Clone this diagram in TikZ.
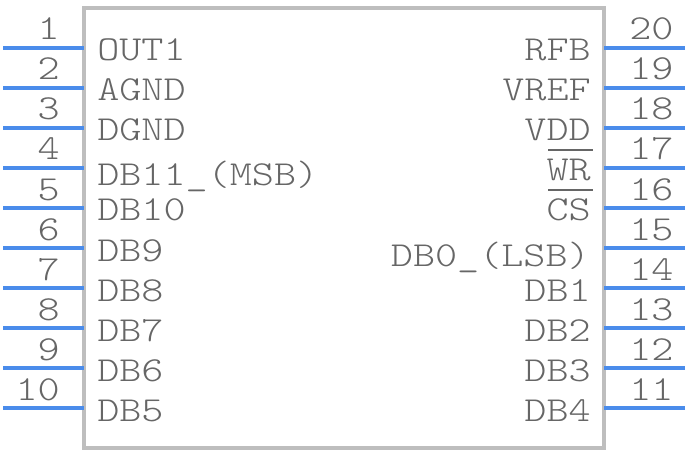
\documentclass[tikz,border=0pt]{standalone}
\usepackage{fontspec}
\newfontfamily\pinfont{Latin Modern Mono Light}[FakeStretch=1.2]
\definecolor{pinblue}{HTML}{4A8CEB}
\definecolor{bodygray}{HTML}{BEBEBE}
\definecolor{textgray}{HTML}{666666}
\tikzset{
  pinline/.style={draw=pinblue, line width=3pt},
  pinleft/.style={anchor=base east, inner sep=0pt, text=textgray, font=\pinfont\fontsize{26.3}{28}\selectfont},
  pinright/.style={anchor=base west, inner sep=0pt, text=textgray, font=\pinfont\fontsize{26.3}{28}\selectfont},
  sigleft/.style={anchor=base west, inner sep=0pt, text=textgray, font=\pinfont\fontsize{26.3}{28}\selectfont},
  sigright/.style={anchor=base east, inner sep=0pt, text=textgray, font=\pinfont\fontsize{26.3}{28}\selectfont},
  overbar/.style={draw=textgray, line width=1.5pt}
}
\begin{document}
\begin{tikzpicture}[x=0.75pt, y=-0.75pt]
        \useasboundingbox (0,0) rectangle (688,452);
        % Body
        \node (body) [draw=bodygray, line width=3pt, minimum width=390pt, minimum height=330pt, inner sep=0pt, outer sep=0pt] at (344,228) {};

        % Pin ends
        \coordinate (p1) at (3,48);
        \coordinate (p2) at (3,88);
        \coordinate (p3) at (3,128);
        \coordinate (p4) at (3,168);
        \coordinate (p5) at (3,208);
        \coordinate (p6) at (3,248);
        \coordinate (p7) at (3,288);
        \coordinate (p8) at (3,328);
        \coordinate (p9) at (3,368);
        \coordinate (p10) at (3,408);
        \coordinate (p11) at (685,408);
        \coordinate (p12) at (685,368);
        \coordinate (p13) at (685,328);
        \coordinate (p14) at (685,288);
        \coordinate (p15) at (685,248);
        \coordinate (p16) at (685,208);
        \coordinate (p17) at (685,168);
        \coordinate (p18) at (685,128);
        \coordinate (p19) at (685,88);
        \coordinate (p20) at (685,48);

        % Pin numbers
        \node (n1) [pinleft] at (60,40) {1};
        \node (n2) [pinleft] at (60,80) {2};
        \node (n3) [pinleft] at (60,120) {3};
        \node (n4) [pinleft] at (60,160) {4};
        \node (n5) [pinleft] at (60,200) {5};
        \node (n6) [pinleft] at (60,240) {6};
        \node (n7) [pinleft] at (60,280) {7};
        \node (n8) [pinleft] at (60,320) {8};
        \node (n9) [pinleft] at (60,360) {9};
        \node (n10) [pinleft] at (60,400) {10};
        \node (n20) [pinright] at (629,40) {20};
        \node (n19) [pinright] at (629,80) {19};
        \node (n18) [pinright] at (629,120) {18};
        \node (n17) [pinright] at (629,160) {17};
        \node (n16) [pinright] at (629,200) {16};
        \node (n15) [pinright] at (629,240) {15};
        \node (n14) [pinright] at (629,280) {14};
        \node (n13) [pinright] at (629,320) {13};
        \node (n12) [pinright] at (629,360) {12};
        \node (n11) [pinright] at (629,400) {11};

        % Signal names
        \node (out1) [sigleft] at (97,61) {OUT1};
        \node (agnd) [sigleft] at (97,101) {AGND};
        \node (dgnd) [sigleft] at (97,141) {DGND};
        \node (db11) [sigleft] at (97,186) {DB11\_(MSB)};
        \node (db10) [sigleft] at (97,221) {DB10};
        \node (db9) [sigleft] at (97,261) {DB9};
        \node (db8) [sigleft] at (97,301) {DB8};
        \node (db7) [sigleft] at (97,341) {DB7};
        \node (db6) [sigleft] at (97,381) {DB6};
        \node (db5) [sigleft] at (97,421) {DB5};
        \node (rfb) [sigright] at (591,61) {RFB};
        \node (vref) [sigright] at (591,101) {VREF};
        \node (vdd) [sigright] at (591,141) {VDD};
        \node (wr) [sigright] at (591,181) {WR};
        \node (cs) [sigright] at (591,221) {CS};
        \node (db0) [sigright] at (590,266) {DB0\_(LSB)};
        \node (db1) [sigright] at (591,301) {DB1};
        \node (db2) [sigright] at (591,341) {DB2};
        \node (db3) [sigright] at (591,381) {DB3};
        \node (db4) [sigright] at (591,421) {DB4};

        % Overbars
        \coordinate (wra) at (548,150);
        \coordinate (wrb) at (593,150);
        \coordinate (csa) at (548,190);
        \coordinate (csb) at (593,190);
        \draw [overbar] (wra) -- (wrb);
        \draw [overbar] (csa) -- (csb);

        % Pins
        \draw [pinline] (p1) -- (p1 -| body.west);
        \draw [pinline] (p2) -- (p2 -| body.west);
        \draw [pinline] (p3) -- (p3 -| body.west);
        \draw [pinline] (p4) -- (p4 -| body.west);
        \draw [pinline] (p5) -- (p5 -| body.west);
        \draw [pinline] (p6) -- (p6 -| body.west);
        \draw [pinline] (p7) -- (p7 -| body.west);
        \draw [pinline] (p8) -- (p8 -| body.west);
        \draw [pinline] (p9) -- (p9 -| body.west);
        \draw [pinline] (p10) -- (p10 -| body.west);
        \draw [pinline] (p20) -- (p20 -| body.east);
        \draw [pinline] (p19) -- (p19 -| body.east);
        \draw [pinline] (p18) -- (p18 -| body.east);
        \draw [pinline] (p17) -- (p17 -| body.east);
        \draw [pinline] (p16) -- (p16 -| body.east);
        \draw [pinline] (p15) -- (p15 -| body.east);
        \draw [pinline] (p14) -- (p14 -| body.east);
        \draw [pinline] (p13) -- (p13 -| body.east);
        \draw [pinline] (p12) -- (p12 -| body.east);
        \draw [pinline] (p11) -- (p11 -| body.east);
\end{tikzpicture}
\end{document}
